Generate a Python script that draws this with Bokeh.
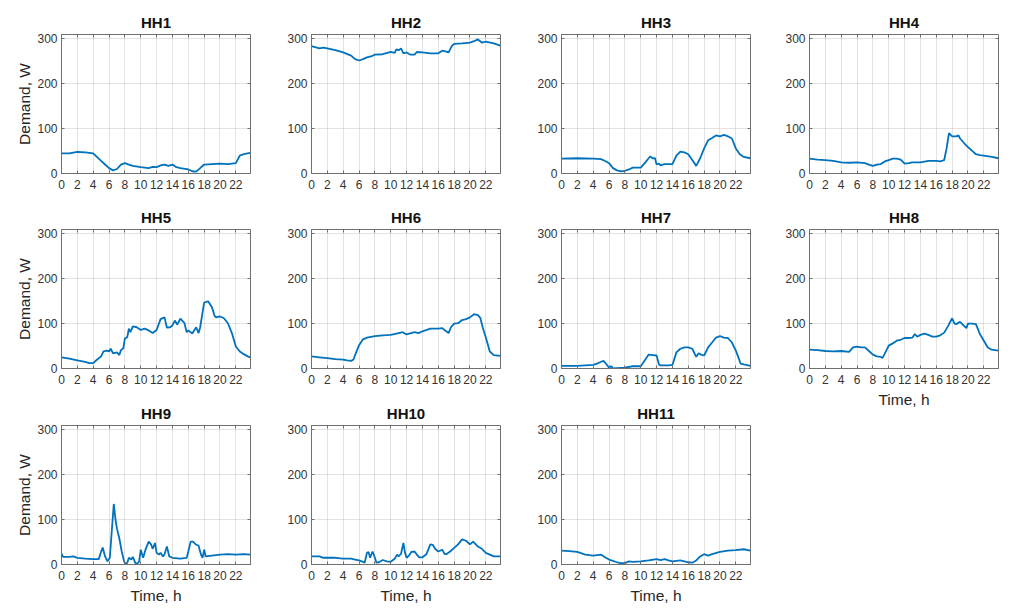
from bokeh.plotting import figure
from bokeh.layouts import row, column
from bokeh.models import Range1d, FixedTicker, LinearAxis
from bokeh.embed import file_html
from bokeh.resources import INLINE

# ---------------- data ----------------
hh1_t = [0, 1, 2, 3, 4, 5, 5.5, 6, 6.5, 7, 7.5, 8, 8.5, 9, 10, 11, 11.5, 12, 12.5, 13, 13.5, 14, 14.5, 15, 16, 16.5, 17, 17.5, 18, 19, 20, 21, 22, 22.5, 23, 23.83]
hh1_y = [45, 45, 48, 47, 45, 28, 20, 12, 7, 10, 20, 23, 20, 17, 14, 12, 15, 14, 18, 20, 17, 20, 14, 12, 9, 5, 4, 12, 20, 21, 22, 21, 23, 40, 43, 46]

hh2_t = [0, 1, 1.5, 2, 3, 4, 5, 5.5, 6, 6.5, 7, 7.5, 8, 9, 10, 10.5, 10.7, 11, 11.3, 11.6, 12, 12.5, 13, 13.3, 14, 15, 16, 16.5, 17, 17.3, 17.7, 18, 19, 20, 20.5, 21, 21.5, 22, 23, 23.83]
hh2_y = [284, 279, 281, 279, 275, 270, 263, 255, 252, 255, 259, 261, 265, 266, 271, 269, 277, 275, 279, 268, 270, 265, 265, 271, 270, 268, 268, 274, 272, 270, 284, 289, 290, 292, 295, 299, 292, 294, 290, 285]

hh3_t = [0, 2, 4, 5, 5.5, 6, 6.5, 7, 7.5, 8, 8.5, 9, 10, 10.5, 11, 11.2, 11.5, 11.8, 12, 12.3, 12.5, 13, 14, 14.5, 15, 15.5, 16, 16.5, 17, 17.5, 18, 18.5, 19, 19.5, 20, 20.5, 21, 21.5, 22, 22.5, 23, 23.83]
hh3_y = [33, 34, 33, 32, 28, 23, 12, 7, 5, 6, 9, 13, 13, 23, 34, 38, 34, 34, 20, 22, 18, 21, 21, 40, 49, 47, 43, 30, 17, 34, 56, 74, 79, 85, 83, 86, 83, 78, 56, 43, 37, 34]

hh4_t = [0, 1, 2, 3, 4, 5, 6, 7, 7.5, 8, 8.5, 9, 9.5, 10, 10.5, 11, 11.5, 12, 12.5, 13, 14, 15, 16, 16.5, 17, 17.3, 17.6, 18, 18.5, 18.8, 19, 19.5, 20, 20.5, 21, 21.5, 22, 23, 23.83]
hh4_y = [33, 31, 30, 28, 25, 24, 25, 23, 20, 17, 20, 21, 27, 30, 33, 33, 31, 22, 23, 25, 25, 28, 28, 27, 30, 56, 90, 83, 83, 85, 78, 68, 59, 51, 43, 41, 40, 37, 34]

hh5_t = [0, 1, 2, 3, 3.5, 4, 4.5, 5, 5.3, 5.7, 6, 6.2, 6.5, 7, 7.3, 7.5, 7.8, 8, 8.3, 8.5, 8.7, 9, 9.5, 10, 10.5, 11, 11.5, 12, 12.5, 13, 13.3, 13.7, 14, 14.3, 14.6, 15, 15.5, 15.8, 16, 16.5, 17, 17.3, 17.5, 18, 18.5, 19, 19.3, 19.5, 20, 20.5, 21, 21.5, 22, 22.5, 23, 23.5, 23.83]
hh5_y = [25, 22, 18, 15, 12, 12, 20, 27, 38, 40, 38, 44, 34, 36, 30, 41, 45, 67, 70, 89, 81, 94, 92, 86, 89, 85, 79, 86, 110, 114, 91, 92, 96, 107, 98, 111, 102, 81, 85, 78, 92, 79, 92, 147, 150, 136, 118, 114, 116, 112, 101, 79, 49, 38, 32, 27, 25]

hh6_t = [0, 1, 2, 3, 4, 4.5, 5, 5.3, 5.5, 6, 6.5, 7, 8, 9, 10, 11, 11.5, 12, 13, 13.5, 14, 15, 16, 16.5, 17, 17.3, 17.6, 18, 18.5, 19, 19.5, 20, 20.5, 21, 21.3, 21.6, 22, 22.5, 23, 23.83]
hh6_y = [27, 25, 23, 21, 20, 18, 17, 20, 30, 52, 65, 69, 72, 74, 75, 79, 81, 76, 81, 79, 83, 89, 89, 90, 83, 79, 92, 100, 101, 108, 110, 114, 121, 119, 113, 92, 69, 38, 30, 28]

hh7_t = [0, 2, 3, 4, 4.5, 5, 5.3, 5.6, 6, 6.3, 6.5, 7, 8, 9, 10, 10.5, 11, 11.5, 12, 12.3, 12.5, 13, 13.5, 14, 14.5, 15, 15.5, 16, 16.5, 17, 17.3, 17.6, 18, 18.5, 19, 19.5, 20, 20.5, 21, 21.5, 22, 22.3, 22.6, 23, 23.83]
hh7_y = [6, 6, 7, 8, 11, 15, 17, 11, 2, 5, 0, 1, 2, 5, 5, 18, 31, 30, 29, 9, 7, 7, 7, 8, 36, 44, 47, 47, 44, 26, 34, 31, 29, 47, 58, 69, 72, 69, 68, 58, 40, 26, 11, 9, 6]

hh8_t = [0, 1, 2, 3, 4, 5, 5.5, 6, 6.5, 7, 7.5, 8, 8.5, 9, 9.2, 9.5, 10, 10.5, 11, 11.5, 12, 12.5, 13, 13.3, 13.6, 14, 14.5, 15, 15.5, 16, 16.5, 17, 17.5, 18, 18.3, 18.5, 19, 19.5, 19.8, 20, 20.5, 21, 21.5, 22, 22.5, 23, 23.83]
hh8_y = [42, 41, 39, 38, 39, 37, 47, 49, 47, 47, 39, 31, 27, 26, 23, 33, 51, 56, 62, 64, 68, 68, 69, 77, 71, 75, 78, 75, 71, 71, 74, 80, 95, 112, 100, 99, 104, 95, 90, 100, 100, 99, 77, 62, 47, 42, 40]

hh9_t = [0, 0.2, 1, 1.5, 2, 3, 4, 4.7, 5, 5.2, 5.5, 5.8, 6.1, 6.4, 6.6, 6.8, 7, 7.3, 7.6, 7.9, 8.1, 8.3, 8.5, 8.8, 9, 9.3, 9.5, 9.8, 10, 10.3, 10.6, 11, 11.3, 11.5, 11.8, 12, 12.3, 12.5, 12.8, 13, 13.3, 13.6, 14, 15, 15.8, 16, 16.3, 16.6, 17, 17.3, 17.6, 17.8, 18, 18.2, 19, 20, 21, 22, 23, 23.83]
hh9_y = [24, 17, 17, 18, 15, 13, 12, 12, 29, 38, 18, 7, 15, 88, 135, 102, 80, 58, 29, 7, 0, 4, 15, 11, 17, 4, 1, 7, 33, 15, 33, 51, 45, 35, 48, 26, 22, 26, 18, 23, 40, 18, 15, 13, 15, 29, 51, 51, 44, 42, 22, 15, 33, 18, 20, 22, 23, 22, 23, 22]

hh10_t = [0, 1, 1.5, 3, 4, 5, 5.5, 6, 6.5, 6.7, 7, 7.2, 7.4, 7.7, 8, 8.2, 8.5, 9, 9.5, 10, 10.5, 10.8, 11, 11.3, 11.6, 11.8, 12, 12.3, 12.6, 13, 13.3, 13.6, 14, 14.5, 15, 15.3, 15.6, 16, 16.5, 16.8, 17, 17.5, 18, 18.5, 19, 19.5, 20, 20.4, 21, 21.5, 22, 23, 23.83]
hh10_y = [18, 18, 15, 15, 13, 13, 11, 9, 6, 4, 26, 28, 15, 29, 15, 4, 5, 10, 7, 6, 13, 22, 18, 24, 48, 26, 15, 20, 28, 29, 22, 16, 16, 23, 45, 44, 35, 29, 33, 23, 23, 29, 37, 45, 56, 53, 45, 51, 40, 35, 26, 18, 18]

hh11_t = [0, 1, 2, 3, 4, 5, 5.5, 6, 7, 7.5, 8, 8.5, 9, 10, 11, 12, 12.5, 13, 13.5, 14, 15, 16, 16.5, 17, 17.5, 18, 18.5, 19, 20, 21, 22, 23, 23.83]
hh11_y = [31, 30, 28, 22, 20, 22, 16, 11, 5, 3, 3, 7, 6, 7, 9, 12, 10, 12, 9, 7, 9, 5, 4, 9, 18, 23, 20, 23, 28, 31, 32, 34, 31]

titles = ["HH1", "HH2", "HH3", "HH4", "HH5", "HH6", "HH7", "HH8", "HH9", "HH10", "HH11"]
series_t = [hh1_t, hh2_t, hh3_t, hh4_t, hh5_t, hh6_t, hh7_t, hh8_t, hh9_t, hh10_t, hh11_t]
series_y = [hh1_y, hh2_y, hh3_y, hh4_y, hh5_y, hh6_y, hh7_y, hh8_y, hh9_y, hh10_y, hh11_y]
x_ticks = [0, 2, 4, 6, 8, 10, 12, 14, 16, 18, 20, 22]
y_ticks = [0, 100, 200, 300]
x_label = "Time, h"
y_label = "Demand, W"

FONT = "Liberation Sans"
LINE_COLOR = "#0072BD"
TICK_COLOR = "#333333"
FRAME_COLOR = "#707070"

FW, FH = 189, 139
LEFT = [61, 51, 51, 49]
TOP = [34, 30, 30]
BOTTOM = [26, 27, 44]


def make_panel(i):
    r, c = divmod(i, 4)
    has_xlabel = (r == 2) or (i == 7)
    bottom = 44 if has_xlabel else BOTTOM[r]
    p = figure(frame_width=FW, frame_height=FH,
               x_range=Range1d(0, 23.85), y_range=Range1d(0, 310),
               output_backend="svg", toolbar_location=None, tools="",
               min_border_left=LEFT[c], min_border_right=10,
               min_border_top=TOP[r], min_border_bottom=bottom,
               title=titles[i])
    p.title.text_font = FONT
    p.title.text_font_size = "15px"
    p.title.text_font_style = "bold"
    p.title.text_color = "#111111"
    p.title.align = "center"
    p.title.standoff = 8
    p.outline_line_color = FRAME_COLOR
    p.outline_line_width = 1
    p.background_fill_color = "white"
    p.border_fill_color = "white"

    p.line(series_t[i], series_y[i], line_color=LINE_COLOR, line_width=1.8)

    p.xaxis.ticker = FixedTicker(ticks=x_ticks)
    p.yaxis.ticker = FixedTicker(ticks=y_ticks)
    for ax in p.xaxis + p.yaxis:
        ax.axis_line_color = FRAME_COLOR
        ax.major_tick_in = 3
        ax.major_tick_out = 0
        ax.minor_tick_line_color = None
        ax.major_tick_line_color = FRAME_COLOR
        ax.major_label_text_font = FONT
        ax.major_label_text_font_size = "12px"
        ax.major_label_text_color = TICK_COLOR
        ax.axis_label_text_font = FONT
        ax.axis_label_text_font_size = "15.5px"
        ax.axis_label_text_font_style = "normal"
        ax.axis_label_text_color = "#262626"
    p.xaxis.major_label_standoff = 6
    p.yaxis.major_label_standoff = 4
    if c == 0:
        p.yaxis.axis_label = y_label
        p.yaxis.axis_label_standoff = 1
    if has_xlabel:
        p.xaxis.axis_label = x_label
        p.xaxis.axis_label_standoff = 4

    # mirrored inner ticks on top and right (box style), labels not drawn
    top_ax = LinearAxis(ticker=FixedTicker(ticks=x_ticks), major_tick_in=3, major_tick_out=0,
                        axis_line_color=None, major_tick_line_color=FRAME_COLOR,
                        minor_tick_line_color=None, major_label_text_font_size="1px",
                        major_label_text_color=None, major_label_standoff=0)
    right_ax = LinearAxis(ticker=FixedTicker(ticks=y_ticks), major_tick_in=3, major_tick_out=0,
                          axis_line_color=None, major_tick_line_color=FRAME_COLOR,
                          minor_tick_line_color=None, major_label_text_font_size="1px",
                          major_label_text_color=None, major_label_standoff=0)
    p.add_layout(top_ax, "above")
    p.add_layout(right_ax, "right")

    p.grid.grid_line_color = "#262626"
    p.grid.grid_line_alpha = 0.13
    p.xgrid.ticker = FixedTicker(ticks=x_ticks)
    p.ygrid.ticker = FixedTicker(ticks=y_ticks)
    return p


panels = [make_panel(i) for i in range(11)]
cols = [column(*[panels[i] for i in range(c, 11, 4)], spacing=0) for c in range(4)]
layout = row(*cols, spacing=0)

open("out.html", "w").write(file_html(layout, INLINE))
